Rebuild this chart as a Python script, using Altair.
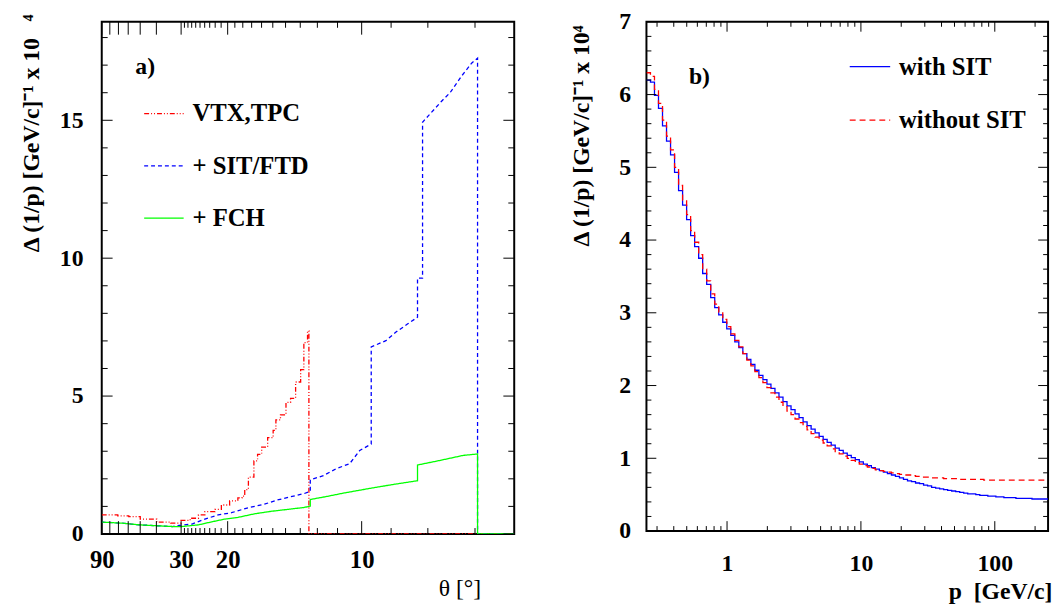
import numpy as np
import pandas as pd
import altair as alt

FONT = "Liberation Serif"

# ---------------- panel a) : resolution vs polar angle (x axis is cot(theta)) -------------
series_a = ["VTX,TPC", "+ SIT/FTD", "+ FCH"]
colors_a = ["#ff0000", "#0000ff", "#00ff00"]
dashes_a = [[5, 2, 1, 2, 1, 2], [4, 3], [1, 0]]

# VTX,TPC (step histogram)
red_cot = [0.00, 0.35, 0.59, 0.84, 1.20, 1.50, 1.73, 1.93, 2.11, 2.25, 2.47, 2.61, 2.79, 2.97,
           3.06, 3.12, 3.20, 3.32, 3.40, 3.49, 3.62, 3.74, 3.80, 3.90, 4.02, 4.12, 4.23, 4.34,
           4.41, 4.49, 4.52, 9.00]
red_val = [0.69, 0.66, 0.63, 0.54, 0.43, 0.39, 0.49, 0.57, 0.69, 0.81, 0.89, 1.05, 1.20, 1.31,
           1.37, 1.61, 2.06, 2.65, 2.89, 3.15, 3.49, 3.76, 4.14, 4.32, 4.77, 4.92, 5.51, 5.96,
           6.94, 7.36, 0.00, 0.00]

# + SIT/FTD
blue_cot = [0.00, 0.45, 0.82, 1.18, 1.54, 1.64, 1.97, 2.25, 2.54, 2.83, 3.19, 3.55, 3.83, 4.12,
            4.41, 4.55, 4.55, 4.84, 5.12, 5.41, 5.63, 5.88, 5.88, 6.20, 6.42, 6.67, 6.89, 6.89,
            7.00, 7.00, 7.13, 7.42, 7.60, 7.85, 8.07, 8.20, 8.20, 9.00]
blue_val = [0.43, 0.39, 0.33, 0.30, 0.27, 0.30, 0.36, 0.54, 0.69, 0.77, 0.95, 1.08, 1.23, 1.35,
            1.46, 1.55, 1.96, 2.12, 2.37, 2.55, 3.03, 3.26, 6.78, 7.01, 7.32, 7.61, 7.86, 9.28,
            9.28, 14.93, 15.17, 15.70, 16.00, 16.60, 17.07, 17.25, 0.00, 0.00]

# + FCH
green_cot = [0.00, 0.46, 0.82, 1.18, 1.54, 1.75, 2.11, 2.40, 2.69, 2.97, 3.33, 3.69, 4.05, 4.41,
             4.55, 4.55, 4.91, 5.27, 5.84, 6.34, 6.89, 6.89, 7.39, 7.89, 8.20, 8.20, 9.00]
green_val = [0.43, 0.39, 0.33, 0.30, 0.27, 0.27, 0.33, 0.44, 0.54, 0.60, 0.73, 0.82, 0.89, 0.96,
             1.01, 1.25, 1.36, 1.48, 1.65, 1.79, 1.93, 2.50, 2.67, 2.85, 2.90, 0.00, 0.00]

theta_long_ticks = [90, 80, 70, 60, 50, 40, 30, 20, 10]
theta_short_ticks = [29, 28, 27, 26, 25, 24, 23, 22, 21, 19, 18, 17, 16, 15, 14, 13, 12, 11, 9, 8, 7]
theta_labels = [90, 30, 20, 10]

# ---------------- panel b) : resolution vs momentum -------------
series_b = ["with SIT", "without SIT"]
colors_b = ["#0000ff", "#ff0000"]
dashes_b = [[1, 0], [6, 4]]
p_min, p_max, n_bins = 0.25, 250.0, 100

with_sit = [6.20, 6.17, 5.99, 5.81, 5.57, 5.36, 5.17, 4.93, 4.68, 4.48, 4.28, 4.06, 3.91, 3.75,
            3.54, 3.39, 3.21, 3.07, 2.97, 2.87, 2.78, 2.69, 2.60, 2.52, 2.44, 2.36, 2.29, 2.21,
            2.14, 2.08, 2.02, 1.96, 1.90, 1.84, 1.78, 1.72, 1.67, 1.61, 1.56, 1.50, 1.45, 1.40,
            1.35, 1.30, 1.26, 1.22, 1.18, 1.14, 1.11, 1.07, 1.04, 1.01, 0.98, 0.95, 0.92, 0.90,
            0.87, 0.85, 0.83, 0.81, 0.79, 0.77, 0.75, 0.73, 0.71, 0.69, 0.68, 0.66, 0.65, 0.63,
            0.62, 0.60, 0.59, 0.58, 0.57, 0.56, 0.55, 0.54, 0.53, 0.52, 0.51, 0.51, 0.50, 0.49,
            0.49, 0.48, 0.48, 0.47, 0.47, 0.46, 0.46, 0.46, 0.45, 0.45, 0.45, 0.45, 0.44, 0.44,
            0.44, 0.44]
without_sit = [6.30, 6.25, 6.07, 5.88, 5.65, 5.43, 5.24, 5.00, 4.75, 4.55, 4.35, 4.13, 3.97, 3.80,
               3.60, 3.44, 3.26, 3.12, 3.01, 2.91, 2.81, 2.71, 2.62, 2.53, 2.44, 2.35, 2.27, 2.19,
               2.11, 2.04, 1.97, 1.90, 1.84, 1.77, 1.71, 1.65, 1.60, 1.54, 1.49, 1.44, 1.39, 1.34,
               1.29, 1.25, 1.21, 1.17, 1.13, 1.09, 1.06, 1.03, 1.00, 0.97, 0.94, 0.92, 0.90, 0.88,
               0.86, 0.84, 0.83, 0.82, 0.81, 0.80, 0.79, 0.78, 0.77, 0.77, 0.76, 0.75, 0.75, 0.74,
               0.74, 0.73, 0.73, 0.73, 0.72, 0.72, 0.72, 0.72, 0.71, 0.71, 0.71, 0.71, 0.71, 0.71,
               0.70, 0.70, 0.70, 0.70, 0.70, 0.70, 0.70, 0.70, 0.70, 0.70, 0.70, 0.70, 0.70, 0.70,
               0.70, 0.70]

p_long_ticks = [1, 10, 100]
p_short_ticks = [0.3, 0.4, 0.5, 0.6, 0.7, 0.8, 0.9, 2, 3, 4, 5, 6, 7, 8, 9,
                 20, 30, 40, 50, 60, 70, 80, 90, 200]

# ---------------- layout constants -------------
WA, HA = 418, 519
WB, HB = 407, 516
XA_MAX, YA_TOP = 9.0, 18.57
YB_TOP = 7.0


def cot(deg):
    return 0.0 if deg == 90 else round(float(1.0 / np.tan(np.radians(deg))), 6)


def frame(x, y, name):
    return pd.DataFrame({"x": x, "v": y, "series": name, "idx": range(len(x))})


df_red = frame(red_cot, red_val, series_a[0])
df_blue = frame(blue_cot, blue_val, series_a[1])
df_green = frame(green_cot, green_val, series_a[2])

edges = [round(p_min * 10 ** (3.0 * i / n_bins), 6) for i in range(n_bins + 1)]
df_with = frame(edges, with_sit + [with_sit[-1]], series_b[0])
df_without = frame(edges, without_sit + [without_sit[-1]], series_b[1])

xa_long = [cot(d) for d in theta_long_ticks]
xa_short = [cot(d) for d in theta_short_ticks]
xa_labels = [cot(d) for d in theta_labels]
ya_long = [0, 5, 10, 15]
ya_short = [i for i in range(0, 19) if i % 5]
yb_long = list(range(0, 8))
yb_short = [round(0.2 * i, 1) for i in range(0, 35) if i % 5]


class Segs:
    """Collects short two-point segments (inward frame ticks) for a line layer."""

    def __init__(self):
        self.rows = []
        self.n = 0

    def add(self, x0, v0, x1, v1):
        self.rows.append({"x": x0, "v": v0, "seg": self.n, "idx": 0})
        self.rows.append({"x": x1, "v": v1, "seg": self.n, "idx": 1})
        self.n += 1

    def df(self):
        return pd.DataFrame(self.rows)


# ---- tick segments, panel a (lengths given in pixels, converted to data units) ----
ya_px = YA_TOP / HA
xa_px = XA_MAX / WA
seg_a = Segs()
for vals, L in ((xa_long, 13), (xa_short, 6)):
    for t in vals:
        seg_a.add(t, 0.0, t, L * ya_px)
        seg_a.add(t, YA_TOP, t, YA_TOP - L * ya_px)
for vals, L in ((ya_long, 11), (ya_short, 6)):
    for t in vals:
        seg_a.add(0.0, t, L * xa_px, t)
        seg_a.add(XA_MAX, t, XA_MAX - L * xa_px, t)

# ---- tick segments, panel b ----
yb_px = YB_TOP / HB
dec_px = np.log10(p_max / p_min) / WB
seg_b = Segs()
for vals, L in ((p_long_ticks, 10), (p_short_ticks, 5)):
    for t in vals:
        seg_b.add(t, 0.0, t, L * yb_px)
        seg_b.add(t, YB_TOP, t, YB_TOP - L * yb_px)
for vals, L in ((yb_long, 10), (yb_short, 5)):
    for t in vals:
        seg_b.add(p_min, t, float(p_min * 10 ** (L * dec_px)), t)
        seg_b.add(p_max, t, float(p_max * 10 ** (-L * dec_px)), t)

# ---------------- panel a -------------
xa_scale = alt.Scale(domain=[0, XA_MAX], nice=False, zero=False)
ya_scale = alt.Scale(domain=[0, YA_TOP], nice=False, zero=False)
col_a = alt.Scale(domain=series_a, range=colors_a)
dash_a = alt.Scale(domain=series_a, range=dashes_a)
leg_a = alt.Legend(title=None, orient="none", legendX=42, legendY=72, symbolType="stroke",
                   symbolSize=1600, symbolStrokeWidth=1.3, labelFont=FONT, labelFontSize=25,
                   labelFontWeight="bold", labelColor="black", labelOffset=8, rowPadding=19,
                   padding=0, labelLimit=400)

label_xa = alt.Axis(orient="bottom", values=xa_labels, ticks=False, tickSize=0, domain=False,
                    grid=False, labelFlush=False, labelOverlap=False,
                    labelExpr="datum.value < 0.5 ? '90' : datum.value < 2.2 ? '30' : datum.value < 4 ? '20' : '10'",
                    labelFont=FONT, labelFontSize=25, labelFontWeight="bold", labelColor="black",
                    labelBaseline="alphabetic", labelPadding=34,
                    title="θ [°]", titleFont=FONT, titleFontSize=24, titleFontWeight="normal",
                    titleColor="black", titleX=384, titleY=62, titleAlign="right",
                    titleBaseline="alphabetic", titleAnchor="end")
label_ya = alt.Axis(orient="left", values=ya_long, ticks=False, tickSize=0, domain=False,
                    grid=False, labelFlush=False, labelOverlap=False,
                    labelFont=FONT, labelFontSize=24, labelFontWeight="bold", labelColor="black",
                    labelPadding=19,
                    title="Δ (1/p) [GeV/c]⁻¹ x 10\u2002\u2009⁴", titleFont=FONT, titleFontSize=24,
                    titleFontWeight="bold", titleColor="black", titleX=-64, titleY=-8,
                    titleAlign="right", titleBaseline="alphabetic", titleAngle=270)


def line_a(df, interp):
    return alt.Chart(df).mark_line(interpolate=interp, strokeWidth=1.3, clip=True).encode(
        x=alt.X("x:Q", scale=xa_scale, axis=label_xa),
        y=alt.Y("v:Q", scale=ya_scale, axis=label_ya),
        color=alt.Color("series:N", scale=col_a, legend=leg_a),
        strokeDash=alt.StrokeDash("series:N", scale=dash_a, legend=leg_a),
        order="idx:Q",
    )


ticks_a = alt.Chart(seg_a.df()).mark_line(color="black", strokeWidth=1).encode(
    x=alt.X("x:Q", scale=xa_scale, axis=label_xa),
    y=alt.Y("v:Q", scale=ya_scale, axis=label_ya),
    detail="seg:N",
    order="idx:Q",
)

a_tag = alt.Chart(pd.DataFrame({"t": ["a)"]})).mark_text(
    font=FONT, fontSize=24, fontWeight="bold", color="black", align="left",
    baseline="alphabetic").encode(text="t:N", x=alt.value(34), y=alt.value(53))

panel_a = alt.layer(
    line_a(df_red, "step-after"), line_a(df_blue, "linear"), line_a(df_green, "linear"),
    ticks_a, a_tag,
).properties(width=WA, height=HA)

# ---------------- panel b -------------
xb_scale = alt.Scale(type="log", domain=[p_min, p_max], nice=False)
yb_scale = alt.Scale(domain=[0, YB_TOP], nice=False, zero=False)
col_b = alt.Scale(domain=series_b, range=colors_b)
dash_b = alt.Scale(domain=series_b, range=dashes_b)
leg_b = alt.Legend(title=None, orient="none", legendX=205, legendY=24, symbolType="stroke",
                   symbolSize=1681, symbolStrokeWidth=1.3, labelFont=FONT, labelFontSize=25,
                   labelFontWeight="bold", labelColor="black", labelOffset=8, rowPadding=19,
                   padding=0, labelLimit=400)

label_xb = alt.Axis(orient="bottom", values=p_long_ticks, ticks=False, tickSize=0, domain=False,
                    grid=False, labelFlush=False, labelOverlap=False, format="d",
                    labelFont=FONT, labelFontSize=24, labelFontWeight="bold", labelColor="black",
                    labelBaseline="alphabetic", labelPadding=40,
                    title="p\u2002[GeV/c]", titleFont=FONT, titleFontSize=24,
                    titleFontWeight="bold", titleColor="black", titleX=411, titleY=68,
                    titleAlign="right", titleBaseline="alphabetic", titleAnchor="end")
label_yb = alt.Axis(orient="left", values=yb_long, ticks=False, tickSize=0,
                    domain=False, grid=False, labelFlush=False, labelOverlap=False,
                    labelFont=FONT, labelFontSize=24, labelFontWeight="bold", labelColor="black",
                    labelPadding=16,
                    title="Δ (1/p) [GeV/c]⁻¹ x 10⁴", titleFont=FONT, titleFontSize=24,
                    titleFontWeight="bold", titleColor="black", titleX=-59, titleY=3,
                    titleAlign="right", titleBaseline="alphabetic", titleAngle=270)


def line_b(df):
    return alt.Chart(df).mark_line(interpolate="step-after", strokeWidth=1.3, clip=True).encode(
        x=alt.X("x:Q", scale=xb_scale, axis=label_xb),
        y=alt.Y("v:Q", scale=yb_scale, axis=label_yb),
        color=alt.Color("series:N", scale=col_b, legend=leg_b),
        strokeDash=alt.StrokeDash("series:N", scale=dash_b, legend=leg_b),
        order="idx:Q",
    )


ticks_b = alt.Chart(seg_b.df()).mark_line(color="black", strokeWidth=1).encode(
    x=alt.X("x:Q", scale=xb_scale, axis=label_xb),
    y=alt.Y("v:Q", scale=yb_scale, axis=label_yb),
    detail="seg:N",
    order="idx:Q",
)

b_tag = alt.Chart(pd.DataFrame({"t": ["b)"]})).mark_text(
    font=FONT, fontSize=24, fontWeight="bold", color="black", align="left",
    baseline="alphabetic").encode(text="t:N", x=alt.value(43), y=alt.value(63))

panel_b = alt.layer(
    line_b(df_with), line_b(df_without), ticks_b, b_tag,
).properties(width=WB, height=HB)

chart = alt.hconcat(panel_a, panel_b, spacing=52).resolve_scale(
    color="independent", strokeDash="independent"
).resolve_legend(
    color="independent", strokeDash="independent"
).properties(
    padding={"left": 11, "top": -3, "right": 0, "bottom": 0},
    background="white",
).configure_view(stroke="black", strokeWidth=2).configure_axis(
    minExtent=0, maxExtent=400, grid=False)

chart.save("out.html", embed_options={"renderer": "svg", "actions": False})
